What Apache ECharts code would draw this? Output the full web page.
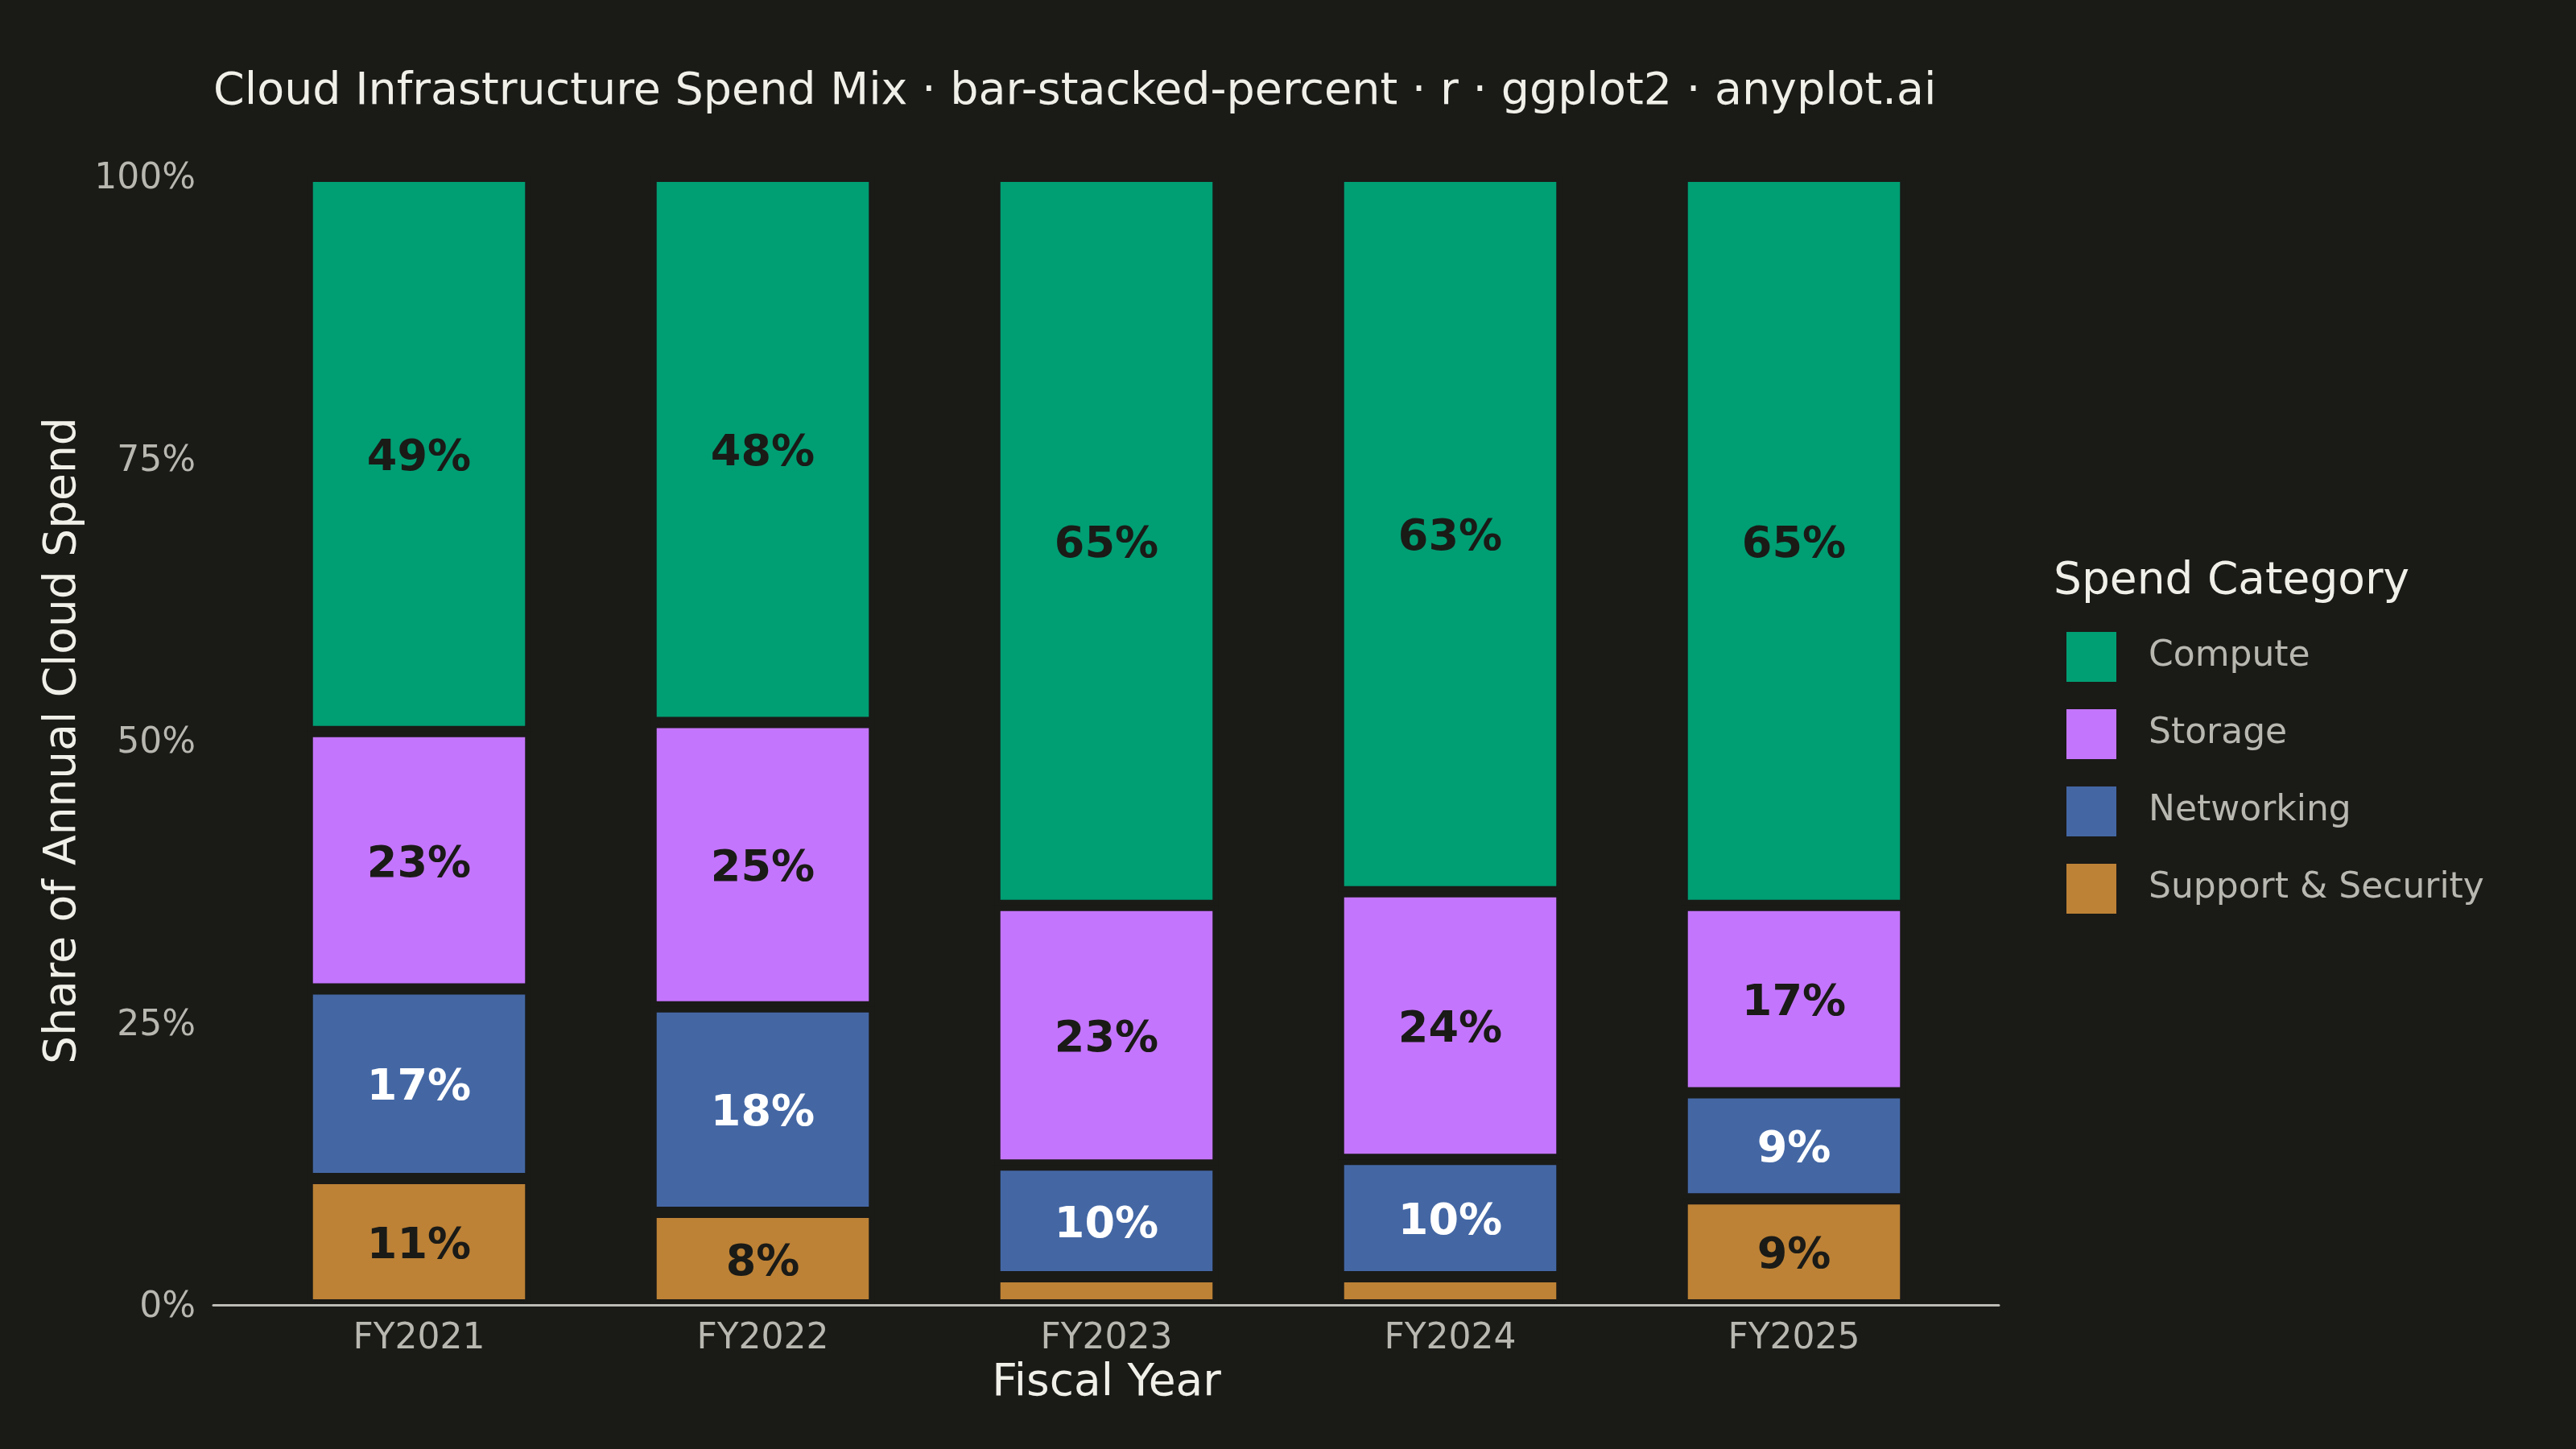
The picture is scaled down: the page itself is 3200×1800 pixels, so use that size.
<!DOCTYPE html>
<html>
<head>
<meta charset="utf-8">
<title>Cloud Infrastructure Spend Mix</title>
<script src="https://cdn.jsdelivr.net/npm/echarts@6/dist/echarts.min.js"></script>
<style>
  html, body { margin: 0; padding: 0; background: #1a1a17; }
  #chart { width: 3200px; height: 1800px; }
</style>
</head>
<body>
<div id="chart"></div>
<script>
// share of annual cloud spend, in percent, bottom segment first
const years = ["FY2021", "FY2022", "FY2023", "FY2024", "FY2025"];
const support = [11.2, 8.2, 2.5, 2.5, 9.4];
const networking = [16.8, 18.2, 9.9, 10.4, 9.4];
const storage = [22.8, 25.2, 23.0, 23.7, 16.6];
const compute = [49.2, 48.4, 64.6, 63.4, 64.6];
const yTicks = [0, 25, 50, 75, 100];

const BG = "#1a1a17";
const FONT = "DejaVu Sans";
const INK = "#f0efe8";
const SOFT = "#b8b7b0";
const DARK = "#1a1a17";

const categories = [
  { name: "Support & Security", data: support, color: "#bd8236", label: DARK },
  { name: "Networking", data: networking, color: "#4467a4", label: "#ffffff" },
  { name: "Storage", data: storage, color: "#c475fd", label: DARK },
  { name: "Compute", data: compute, color: "#009e73", label: DARK }
];

const chart = echarts.init(document.getElementById("chart"), null, { renderer: "canvas" });

chart.setOption({
  backgroundColor: BG,
  animation: false,
  textStyle: { fontFamily: FONT },
  title: [
    {
      text: "Cloud Infrastructure Spend Mix · bar-stacked-percent · r · ggplot2 · anyplot.ai",
      left: 265,
      top: 87,
      padding: 0,
      textStyle: { color: INK, fontSize: 55.5, fontWeight: "normal", fontFamily: FONT }
    },
    {
      text: "Spend Category",
      left: 2551,
      top: 695,
      padding: 0,
      textStyle: { color: INK, fontSize: 55, fontWeight: "normal", fontFamily: FONT }
    }
  ],
  legend: {
    orient: "vertical",
    left: 2567,
    top: 785,
    padding: 0,
    itemWidth: 62,
    itemHeight: 62,
    itemGap: 34,
    icon: "rect",
    itemStyle: { borderWidth: 0 },
    data: ["Compute", "Storage", "Networking", "Support & Security"],
    textStyle: { color: SOFT, fontSize: 44, fontFamily: FONT, padding: [0, 0, 0, 35] }
  },
  grid: [
    // bars: ggplot discrete expansion leaves 0.6 band each side, so this one is inset
    { left: 307, width: 2135, top: 219, bottom: 179 },
    // full panel for axis line and y labels
    { left: 265, right: 717, top: 219, bottom: 179 }
  ],
  xAxis: [
    {
      type: "category",
      gridIndex: 0,
      data: years,
      axisLine: { show: false },
      axisTick: { show: false },
      axisLabel: { color: SOFT, fontSize: 44, margin: 21, fontFamily: FONT },
      name: "Fiscal Year",
      nameLocation: "middle",
      nameGap: 68,
      nameTextStyle: { color: INK, fontSize: 55, fontFamily: FONT }
    },
    {
      type: "value",
      gridIndex: 1,
      min: 0,
      max: 1,
      z: 10,
      axisLine: { show: true, onZero: false, lineStyle: { color: "#bdbcb5", width: 3 } },
      axisTick: { show: false },
      axisLabel: { show: false },
      splitLine: { show: false }
    }
  ],
  yAxis: [
    {
      type: "value",
      gridIndex: 0,
      min: 0,
      max: 100,
      show: false
    },
    {
      type: "value",
      gridIndex: 1,
      min: yTicks[0],
      max: yTicks[yTicks.length - 1],
      interval: 25,
      axisLine: { show: false },
      axisTick: { show: false },
      splitLine: { show: false },
      axisLabel: {
        color: SOFT,
        fontSize: 44,
        margin: 22,
        fontFamily: FONT,
        // ggplot sits these a touch below the tick value
        verticalAlign: "top",
        lineHeight: 8,
        formatter: "{value}%"
      },
      name: "Share of Annual Cloud Spend",
      nameLocation: "middle",
      nameGap: 156,
      nameTextStyle: { color: INK, fontSize: 55, fontFamily: FONT }
    }
  ],
  series: categories.map((c) => ({
    name: c.name,
    type: "bar",
    stack: "share",
    xAxisIndex: 0,
    yAxisIndex: 0,
    barCategoryGap: "35%",
    data: c.data,
    // echarts keeps the stroke inside the bar, so 7 here gives a 14px gap between segments
    itemStyle: { color: c.color, borderColor: BG, borderWidth: 7 },
    label: {
      show: true,
      position: "inside",
      offset: [0, 6],
      color: c.label,
      fontSize: 54,
      fontWeight: "bold",
      fontFamily: FONT,
      formatter: (p) => (p.value < 4 ? "" : Math.round(p.value) + "%")
    }
  }))
});
</script>
</body>
</html>
